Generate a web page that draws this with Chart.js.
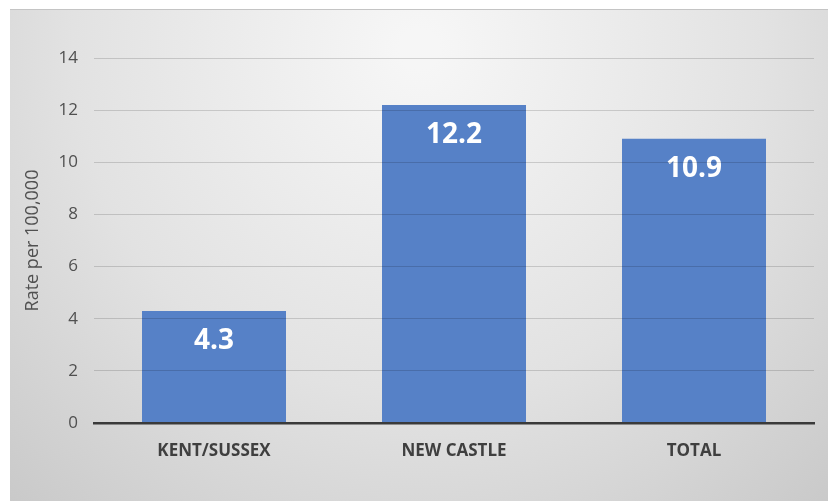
<!DOCTYPE html>
<html lang="en">
<head>
  <meta charset="UTF-8" />
  <title>Rate per 100,000 by County</title>
  <script src="https://cdn.jsdelivr.net/npm/chart.js"></script>
  <style>
    html, body {
      margin: 0;
      padding: 0;
      background: #fff;
      width: 828px;
      height: 501px;
      overflow: hidden;
    }

    .wrap {
      position: absolute;
      left: 10px;
      top: 9px;
      width: 818px;
      height: 492px;
    }
  </style>
</head>
<body>
  <div class="wrap">
    <canvas id="rateChart"></canvas>
  </div>

  <script>
    const regions = ['KENT/SUSSEX', 'NEW CASTLE', 'TOTAL'];
    const rates = [4.3, 12.2, 10.9];
    const yTicks = [0, 2, 4, 6, 8, 10, 12, 14];

    const FONT = "'Open Sans', 'Liberation Sans', sans-serif";

    // soft grey radial backdrop with a thin rule along the top edge
    const backdrop = {
      id: 'backdrop',
      beforeDraw(chart) {
        const { ctx, width, height } = chart;
        ctx.save();
        const g = ctx.createRadialGradient(width * 0.5, 40, 20, width * 0.5, 40, width * 0.75);
        g.addColorStop(0, '#f6f6f6');
        g.addColorStop(0.55, '#e2e2e2');
        g.addColorStop(1, '#c9c9c9');
        ctx.fillStyle = g;
        ctx.fillRect(0, 0, width, height);
        ctx.fillStyle = '#c4c4c4';
        ctx.fillRect(0, 0, width, 1);
        ctx.restore();
      }
    };

    // white value labels inside the top of each bar
    const barValues = {
      id: 'barValues',
      afterDatasetsDraw(chart) {
        const { ctx } = chart;
        const meta = chart.getDatasetMeta(0);
        ctx.save();
        ctx.fillStyle = '#ffffff';
        ctx.font = `bold 28px ${FONT}`;
        ctx.textAlign = 'center';
        ctx.textBaseline = 'middle';
        meta.data.forEach((bar, i) => {
          ctx.fillText(String(rates[i]), bar.x, bar.y + 30);
        });
        ctx.restore();
      }
    };

    new Chart(document.getElementById('rateChart'), {
      type: 'bar',
      data: {
        labels: regions,
        datasets: [{
          data: rates,
          backgroundColor: '#5681c7',
          borderWidth: 0,
          categoryPercentage: 1,
          barPercentage: 0.6
        }]
      },
      options: {
        responsive: true,
        maintainAspectRatio: false,
        animation: false,
        layout: { padding: { top: 49, right: 14, bottom: 0, left: 0 } },
        plugins: {
          legend: { display: false },
          tooltip: { enabled: false }
        },
        scales: {
          x: {
            grid: { display: false, drawTicks: false },
            border: { display: true, color: '#3a3a3a', width: 2.5, z: 2 },
            ticks: {
              color: '#3f3f3f',
              padding: 18,
              font: { family: FONT, size: 17, weight: 'bold' }
            },
            afterFit(scale) { scale.height = 78; }
          },
          y: {
            min: 0,
            max: 14,
            afterBuildTicks(scale) { scale.ticks = yTicks.map(v => ({ value: v })); },
            grid: { color: 'rgba(0,0,0,0.15)', lineWidth: 1, drawTicks: false, z: 1 },
            border: { display: false },
            ticks: {
              color: '#505050',
              padding: 16,
              font: { family: FONT, size: 17 }
            },
            title: {
              display: true,
              text: 'Rate per 100,000',
              color: '#505050',
              padding: { top: 12, bottom: 0 },
              font: { family: FONT, size: 18 }
            },
            afterFit(scale) { scale.width = 84; }
          }
        }
      },
      plugins: [backdrop, barValues]
    });
  </script>
</body>
</html>
